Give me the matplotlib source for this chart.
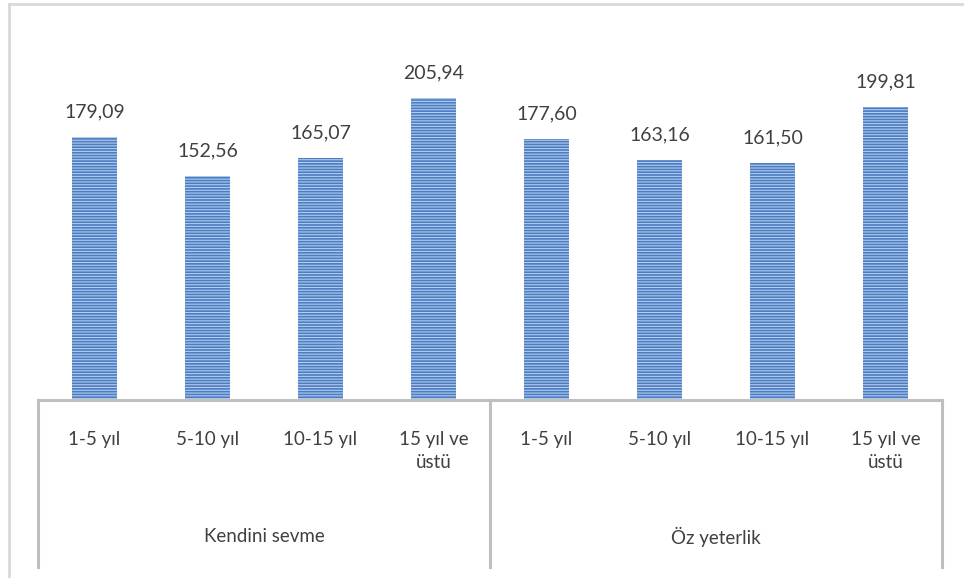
import matplotlib
matplotlib.use("Agg")
import matplotlib.pyplot as plt
from matplotlib.transforms import blended_transform_factory
from matplotlib.lines import Line2D

plt.rcParams['font.family'] = ['Lato', 'DejaVu Sans']
plt.rcParams['hatch.linewidth'] = 0.8

groups = ["Kendini sevme", "Öz yeterlik"]
categories = ["1-5 yıl", "5-10 yıl", "10-15 yıl", "15 yıl ve\nüstü"]
values = [179.09, 152.56, 165.07, 205.94, 177.60, 163.16, 161.50, 199.81]
value_labels = ["179,09", "152,56", "165,07", "205,94", "177,60", "163,16", "161,50", "199,81"]

W, H = 964, 578
fig = plt.figure(figsize=(W / 100, H / 100), dpi=100)

def fx(px):
    return px / W

def fy(py):
    return 1 - py / H

ax_left, ax_right, ax_bottom, ax_top = 38, 942, 400, 33
ax = fig.add_axes([fx(ax_left), fy(ax_bottom), fx(ax_right - ax_left), (ax_bottom - ax_top) / H])

n = len(values)
xs = list(range(n))
ax.bar(xs, values, width=0.39, color='#4A7DC2', edgecolor='#B4CCEE',
       hatch='------', linewidth=0)
ax.set_xlim(-0.5, n - 0.5)
ax.set_ylim(0, 250)
ax.axis('off')

for x, v, lab in zip(xs, values, value_labels):
    ax.annotate(lab, (x, v), xytext=(0, 12), textcoords='offset points',
                ha='center', va='bottom', fontsize=14, color='#404040')

line_col = '#BFBFBF'
tr = blended_transform_factory(ax.transData, fig.transFigure)
# horizontal axis line
fig.add_artist(Line2D([fx(ax_left), fx(ax_right)], [fy(ax_bottom), fy(ax_bottom)],
                      color=line_col, lw=2.2, transform=fig.transFigure))
# group separator verticals
for xv in [-0.5, 3.5, 7.5]:
    fig.add_artist(Line2D([xv, xv], [fy(ax_bottom), fy(567)], color=line_col,
                          lw=2.2, transform=tr))

# category labels
for i, x in enumerate(xs):
    cat = categories[i % len(categories)]
    ax.text(x, fy(431), cat, transform=tr, ha='center', va='top',
            fontsize=13.5, color='#404040', linespacing=1.4)

# group labels
for g, name in enumerate(groups):
    cx = g * 4 + 1.5
    ax.text(cx, fy(537), name, transform=tr, ha='center', va='center',
            fontsize=13.5, color='#404040')

# outer chart border (top and left visible)
fig.add_artist(Line2D([fx(9), 1], [fy(4), fy(4)], color='#D9D9D9', lw=2,
                      transform=fig.transFigure))
fig.add_artist(Line2D([fx(9), fx(9)], [fy(4), 0], color='#D9D9D9', lw=2,
                      transform=fig.transFigure))

fig.savefig('out.png', dpi=100)
